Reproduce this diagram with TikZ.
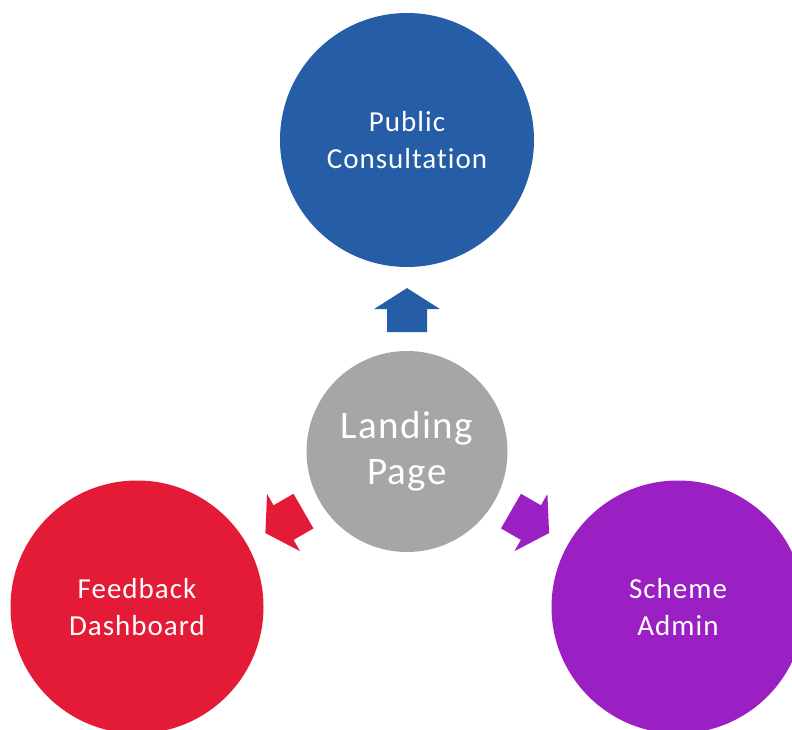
\documentclass[tikz,border=0pt]{standalone}
\usepackage{fontspec}
\setmainfont{Carlito}[Ligatures=NoCommon, LetterSpace=3.5]
\usetikzlibrary{calc}
\definecolor{cblue}{HTML}{255DA7}
\definecolor{cred}{HTML}{E41B36}
\definecolor{cpurple}{HTML}{9A20C4}
\definecolor{cgray}{HTML}{A6A6A6}
\tikzset{
  bubble/.style={circle, inner sep=0pt, text=white, align=center, font=\fontsize{29}{36.5}\selectfont},
  blockarrow/.pic={\fill (22,0) -- (1,33) -- (1,20) -- (-22,20) -- (-22,-20) -- (1,-20) -- (1,-33) -- cycle;}
}
\begin{document}
\begin{tikzpicture}[x=1pt,y=1pt]
\useasboundingbox (0,0) rectangle (792,729);
\node[bubble, fill=cgray, minimum size=201pt, font=\fontsize{39}{46}\selectfont] (land) at (407,277.5) {Landing\\Page};
\node[bubble, fill=cblue, minimum size=254pt] (pub) at (407,589) {Public\\Consultation};
\node[bubble, fill=cred, minimum size=253pt] (feed) at (137,122) {Feedback\\Dashboard};
\node[bubble, fill=cpurple, minimum size=253pt] (admin) at (678,122) {Scheme\\Admin};
\pic[fill=cblue, rotate=90] at ($(land)!0.454!(pub)$) {blockarrow};
\pic[fill=cred, rotate=210] at ($(land)!0.454!(feed)$) {blockarrow};
\pic[fill=cpurple, rotate=-30] at ($(land)!0.454!(admin)$) {blockarrow};
\end{tikzpicture}
\end{document}
